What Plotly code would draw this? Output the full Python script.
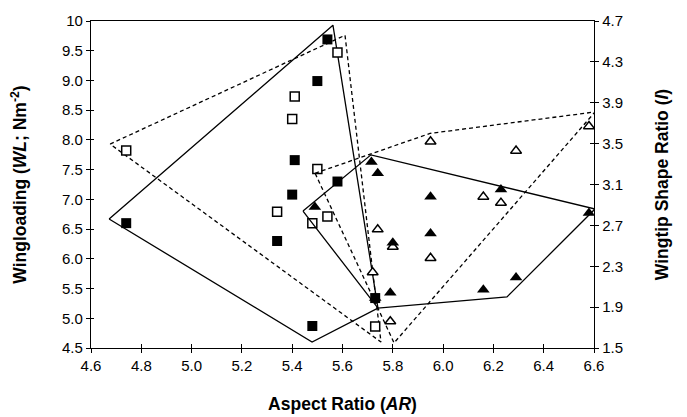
import plotly.graph_objects as go

# ---- data ----
# Wingloading (left axis): filled squares / open squares
wl_filled_ar = [4.74, 5.54, 5.50, 5.41, 5.40, 5.34, 5.48, 5.58, 5.73]
wl_filled_wl = [6.60, 9.69, 8.99, 7.66, 7.08, 6.30, 4.87, 7.30, 5.34]
wl_open_ar = [4.74, 5.58, 5.41, 5.40, 5.50, 5.34, 5.48, 5.54, 5.73]
wl_open_wl = [7.82, 9.47, 8.73, 8.35, 7.51, 6.79, 6.60, 6.71, 4.86]

# Wingtip shape ratio (right axis): filled triangles / open triangles
ir_filled_ar = [5.49, 5.715, 5.74, 5.95, 6.23, 6.58, 5.80, 5.95, 5.73, 5.79, 6.16, 6.29]
ir_filled_i = [2.88, 3.32, 3.21, 2.98, 3.05, 2.82, 2.53, 2.62, 1.99, 2.04, 2.07, 2.19]
ir_open_ar = [5.95, 6.29, 6.58, 6.16, 6.23, 5.74, 5.80, 5.95, 5.72, 5.79]
ir_open_i = [3.52, 3.43, 3.67, 2.98, 2.92, 2.66, 2.49, 2.38, 2.24, 1.76]

# Envelope polygons (vertices, closed)
hull_wl_filled_ar = [4.672, 5.562, 5.741, 5.479, 4.672]
hull_wl_filled_wl = [6.67, 9.93, 5.17, 4.60, 6.67]
hull_wl_open_ar = [4.676, 5.61, 5.753, 4.676]
hull_wl_open_wl = [7.93, 9.76, 4.60, 7.93]
hull_ir_filled_ar = [5.443, 5.713, 6.604, 6.254, 5.741, 5.443]
hull_ir_filled_i = [2.84, 3.39, 2.86, 2.00, 1.89, 2.84]
hull_ir_open_ar = [5.491, 5.948, 6.604, 5.805, 5.491]
hull_ir_open_i = [3.21, 3.60, 3.81, 1.55, 3.21]

x_ticks = [4.6, 4.8, 5.0, 5.2, 5.4, 5.6, 5.8, 6.0, 6.2, 6.4, 6.6]
x_ticktext = ["4.6", "4.8", "5.0", "5.2", "5.4", "5.6", "5.8", "6.0", "6.2", "6.4", "6.6"]
y_ticks = [4.5, 5.0, 5.5, 6.0, 6.5, 7.0, 7.5, 8.0, 8.5, 9.0, 9.5, 10]
y_ticktext = ["4.5", "5.0", "5.5", "6.0", "6.5", "7.0", "7.5", "8.0", "8.5", "9.0", "9.5", "10"]
y2_ticks = [1.5, 1.9, 2.3, 2.7, 3.1, 3.5, 3.9, 4.3, 4.7]
y2_ticktext = ["1.5", "1.9", "2.3", "2.7", "3.1", "3.5", "3.9", "4.3", "4.7"]

X_RANGE = [4.6, 6.6]
Y_RANGE = [4.5, 10]
Y2_RANGE = [1.5, 4.7]

FONT = "Arial, Liberation Sans, Helvetica, sans-serif"
LW = 1.3
DASH = "4px,3px"

fig = go.Figure()

# polygons
fig.add_trace(go.Scatter(x=hull_wl_filled_ar, y=hull_wl_filled_wl, mode="lines",
                         line=dict(color="black", width=LW), yaxis="y", hoverinfo="skip"))
fig.add_trace(go.Scatter(x=hull_wl_open_ar, y=hull_wl_open_wl, mode="lines",
                         line=dict(color="black", width=LW, dash=DASH), yaxis="y", hoverinfo="skip"))
fig.add_trace(go.Scatter(x=hull_ir_filled_ar, y=hull_ir_filled_i, mode="lines",
                         line=dict(color="black", width=LW), yaxis="y2", hoverinfo="skip"))
fig.add_trace(go.Scatter(x=hull_ir_open_ar, y=hull_ir_open_i, mode="lines",
                         line=dict(color="black", width=LW, dash=DASH), yaxis="y2", hoverinfo="skip"))

# markers
fig.add_trace(go.Scatter(x=wl_open_ar, y=wl_open_wl, mode="markers", yaxis="y",
                         marker=dict(symbol="square", size=9, color="white",
                                     line=dict(color="black", width=1.5))))
fig.add_trace(go.Scatter(x=wl_filled_ar, y=wl_filled_wl, mode="markers", yaxis="y",
                         marker=dict(symbol="square", size=10, color="black",
                                     line=dict(color="black", width=0))))
fig.add_trace(go.Scatter(x=ir_open_ar, y=ir_open_i, mode="markers", yaxis="y2",
                         marker=dict(symbol="triangle-up", size=9.5, color="white",
                                     line=dict(color="black", width=1.5))))
fig.add_trace(go.Scatter(x=ir_filled_ar, y=ir_filled_i, mode="markers", yaxis="y2",
                         marker=dict(symbol="triangle-up", size=11, color="black",
                                     line=dict(color="black", width=0))))

tickfont = dict(family=FONT, size=15, color="black")
titlefont = dict(family=FONT, size=17.5, color="black")
common = dict(showgrid=False, zeroline=False, tickcolor="black", tickwidth=1.2,
              automargin=False)

# The page body has an 8px margin, so the figure is sized/offset to compensate.
fig.update_layout(
    width=679, height=409,
    margin=dict(l=83, r=93, t=13, b=69),
    paper_bgcolor="white", plot_bgcolor="white",
    showlegend=False,
    xaxis=dict(range=X_RANGE, tickvals=x_ticks, ticktext=x_ticktext,
               showline=True, linecolor="black", linewidth=1.3, mirror=True,
               ticks="outside", ticklen=4, tickfont=tickfont,
               title=dict(text="<b>Aspect Ratio (<i>AR</i>)</b>", font=titlefont, standoff=24),
               **common),
    xaxis2=dict(range=X_RANGE, tickvals=x_ticks, overlaying="x", side="bottom",
                anchor="y", showline=False, ticks="inside", ticklen=4,
                showticklabels=False, **common),
    yaxis=dict(range=Y_RANGE, tickvals=y_ticks, ticktext=y_ticktext,
               showline=True, linecolor="black", linewidth=1.3,
               ticks="outside", ticklen=4, tickfont=tickfont,
               title=dict(text="<b>Wingloading (<i>WL</i>; Nm<sup>-2</sup>)</b>",
                          font=titlefont, standoff=30),
               **common),
    yaxis2=dict(range=Y2_RANGE, tickvals=y2_ticks, ticktext=y2_ticktext,
                overlaying="y", side="right",
                showline=True, linecolor="black", linewidth=1.3,
                ticks="outside", ticklen=4, tickfont=tickfont,
                title=dict(text="<b>Wingtip Shape Ratio (<i>I</i>)</b>",
                           font=titlefont, standoff=33),
                **common),
    yaxis3=dict(range=Y_RANGE, tickvals=y_ticks, overlaying="y", side="left",
                showline=False, ticks="inside", ticklen=3, showticklabels=False, **common),
    yaxis4=dict(range=Y2_RANGE, tickvals=y2_ticks, overlaying="y", side="right",
                showline=False, ticks="inside", ticklen=4, showticklabels=False, **common),
)

# invisible traces to activate the tick-only overlay axes
fig.add_trace(go.Scatter(x=[X_RANGE[0]], y=[Y_RANGE[0]], xaxis="x2", yaxis="y3",
                         mode="markers", marker=dict(opacity=0), hoverinfo="skip"))
fig.add_trace(go.Scatter(x=[X_RANGE[0]], y=[Y2_RANGE[0]], xaxis="x", yaxis="y4",
                         mode="markers", marker=dict(opacity=0), hoverinfo="skip"))

fig.write_html("out.html")
